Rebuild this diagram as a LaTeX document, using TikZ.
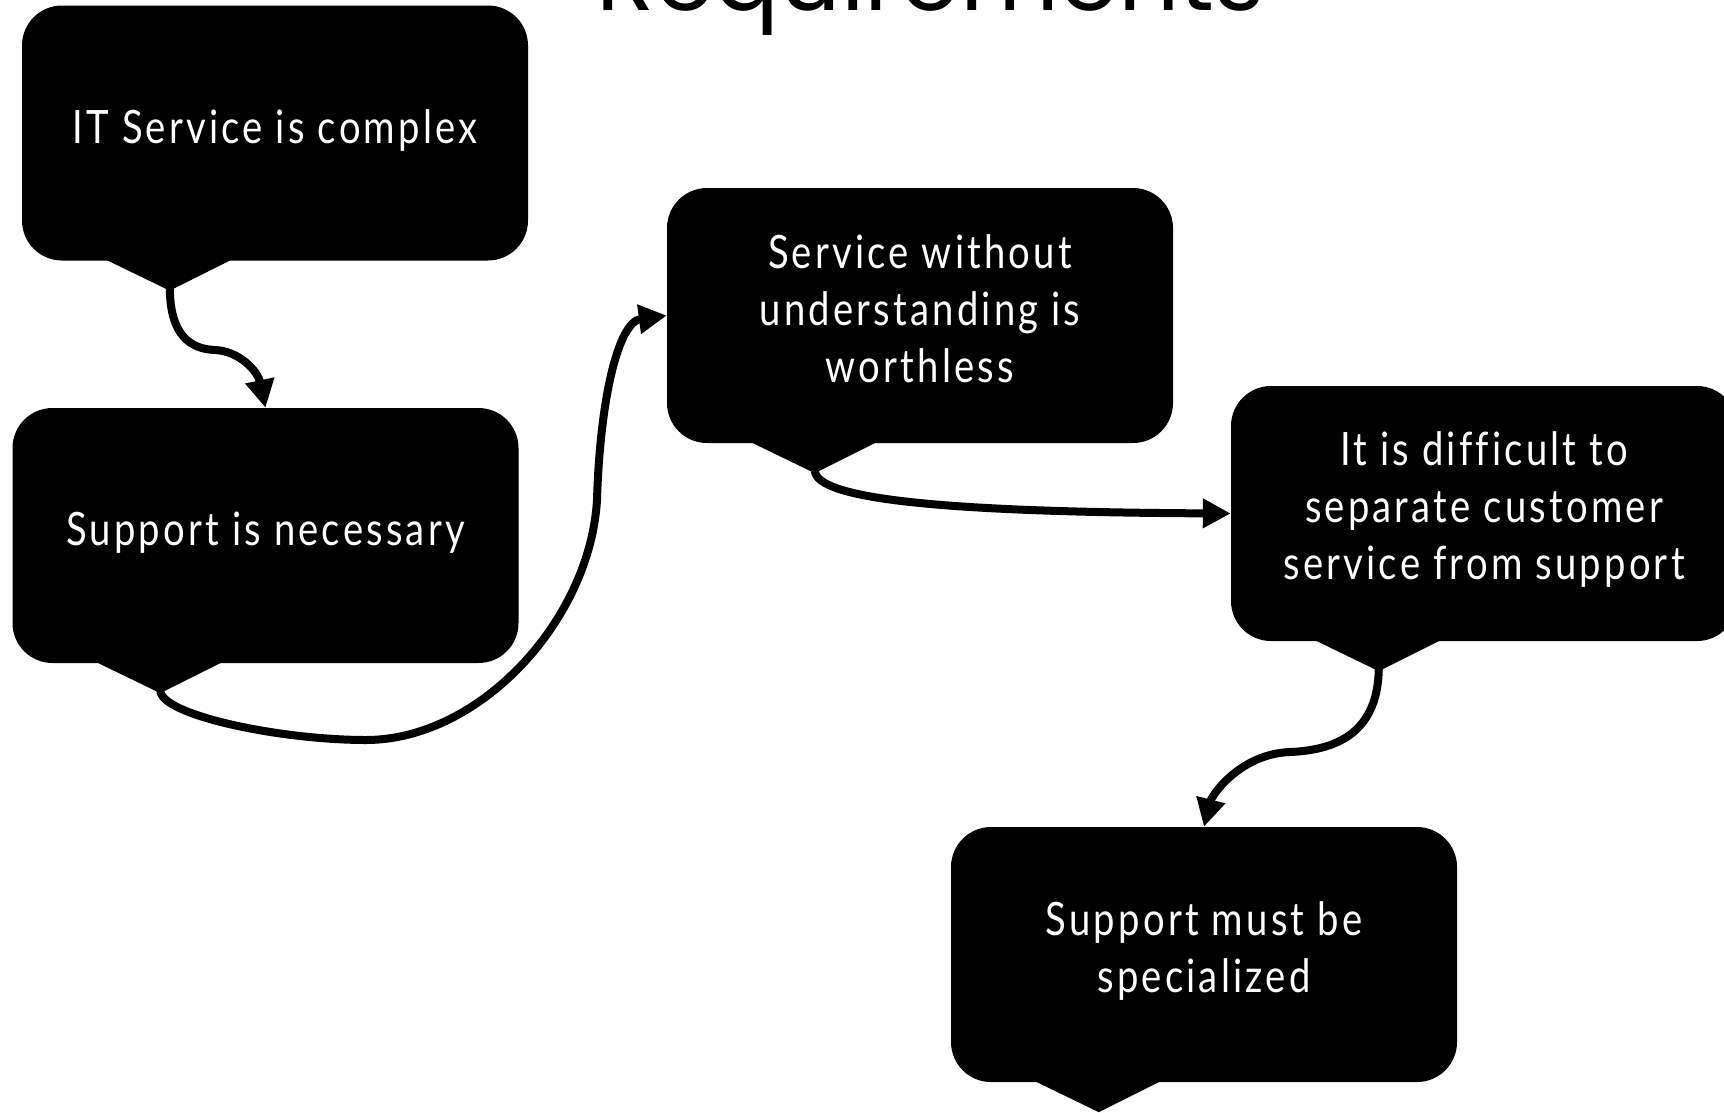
\documentclass[tikz,border=0pt]{standalone}
\usepackage{fontspec}
\setmainfont{Lato}[FakeStretch=0.83,LetterSpace=7,Ligatures=NoCommon]
\newfontfamily\titlefont{Poppins}
\usetikzlibrary{arrows.meta}
\newcommand\bubbletail[2]{%
  \fill ([xshift=82pt,yshift=2pt]#1.south west) -- ([xshift=148pt,yshift=-30pt]#1.south west) -- ([xshift=212pt,yshift=2pt]#1.south west) -- cycle;
  \coordinate (#2) at ([xshift=148pt,yshift=-27pt]#1.south west);}
\begin{document}
\begin{tikzpicture}[x=1pt,y=-1pt,
  bubble/.style={fill=black, rounded corners=40pt, minimum width=506pt, minimum height=255pt, inner sep=0pt},
  bubbletext/.style={inner sep=0pt, text=white, align=center, font=\fontsize{46}{57}\selectfont},
  link/.style={line width=8pt, -{Triangle[length=28pt,width=28pt]}}]
\useasboundingbox (0,0) rectangle (1724,1112);
\clip (0,0) rectangle (1724,1112);
\node[font=\titlefont\fontsize{96}{96}\selectfont, anchor=base] (title) at (931,10) {Requirements};
\node[bubble] (b1) at (275,133) {};
\node[bubble] (b2) at (265.5,535.5) {};
\node[bubble] (b3) at (920,315.5) {};
\node[bubble] (b4) at (1484,513.5) {};
\node[bubble] (b5) at (1204,954.5) {};
\node[bubbletext] (b1t) at ([yshift=3pt]b1.center) {IT Service is complex};
\node[bubbletext] (b2t) at ([yshift=3pt]b2.center) {Support is necessary};
\node[bubbletext] (b3t) at ([yshift=7pt]b3.center) {Service without\\understanding is\\worthless};
\node[bubbletext] (b4t) at ([yshift=4pt]b4.center) {It is difficult to\\separate customer\\service from support};
\node[bubbletext] (b5t) at ([yshift=4pt]b5.center) {Support must be\\specialized};
\bubbletail{b1}{t1}
\bubbletail{b2}{t2}
\bubbletail{b3}{t3}
\bubbletail{b4}{t4}
\bubbletail{b5}{t5}
\draw[link] (t1) .. controls (170,335) and (190,349) .. (215,350) .. controls (240,351) and (258,372) .. (b2.north);
\draw[link] (t2) .. controls (160,715) and (280,740) .. (366,740) .. controls (480,740) and (590,620) .. (597,500) .. controls (600,400) and (618,322) .. (b3.west);
\draw[link] (t3) .. controls (815,500) and (950,512) .. (b4.west);
\draw[link] (t4) .. controls (1378,730) and (1340,750) .. (1290,752) .. controls (1240,754) and (1212,795) .. (b5.north);
\end{tikzpicture}
\end{document}
